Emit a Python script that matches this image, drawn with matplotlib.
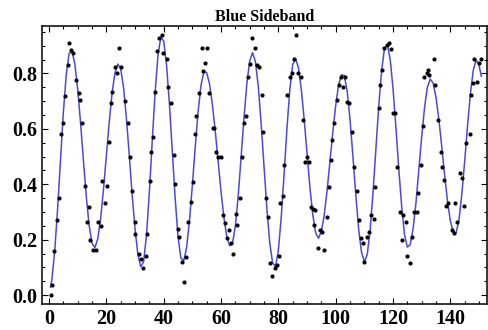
import matplotlib
matplotlib.use("Agg")
import matplotlib.pyplot as plt
from matplotlib.ticker import MultipleLocator

# measured points (time, population)
t_data = [0.6, 1.2, 1.9, 2.9, 3.4, 4.2, 4.8, 5.7, 6.6, 7.1, 7.7, 8.4, 9.4, 10.35, 10.8, 11.6,
          12.7, 13.1, 14.1, 14.4, 15.5, 16.4, 17.0, 18.0, 18.5, 19.4, 20.2, 20.8, 21.5, 22.0,
          22.9, 23.8, 24.3, 25.2, 26.4, 27.6, 28.2, 29.0, 29.9, 30.1, 31.3, 32.0, 32.8, 33.7,
          34.3, 35.1, 35.7, 36.4, 37.1, 37.8, 38.5, 39.4, 39.9, 41.2, 41.6, 42.6, 43.5, 44.0,
          44.9, 45.2, 46.3, 47.2, 47.8, 48.5, 49.4, 50.1, 50.9, 51.4, 52.4, 53.3, 53.8, 54.5,
          55.1, 55.9, 57.1, 57.7, 58.2, 59.0, 59.9, 60.8, 61.3, 62.0, 62.8, 63.4, 64.3, 65.1,
          65.7, 66.6, 67.3, 68.0, 68.6, 69.4, 70.1, 70.9, 71.8, 72.7, 73.3, 74.2, 74.8, 75.6,
          76.4, 77.1, 77.9, 78.7, 79.5, 80.4, 80.7, 81.5, 82.1, 83.0, 83.9, 84.6, 85.5, 86.3,
          86.9, 87.8, 88.5, 89.2, 89.9, 90.6, 91.5, 92.0, 92.4, 92.9, 93.7, 94.4, 95.3, 95.8,
          97.0, 97.6, 98.2, 98.6, 99.4, 100.4, 101.3, 101.8, 102.7, 103.3, 104.1, 104.7, 105.6,
          106.5, 107.4, 108.0, 108.7, 109.5, 110.0, 110.8, 111.6, 112.3, 113.2, 113.7, 115.1,
          115.5, 116.1, 117.0, 117.8, 118.5, 119.2, 120.0, 120.8, 121.4, 122.3, 123.2, 123.5,
          124.4, 125.0, 125.8, 126.7, 127.4, 128.2, 128.7, 129.6, 130.5, 130.8, 131.7, 132.2,
          132.6, 134.2, 134.6, 135.7, 136.6, 137.1, 137.8, 138.6, 139.3, 140.5, 141.1, 141.7,
          142.3, 143.2, 144.2, 144.6, 145.5, 146.7, 147.1, 147.8, 148.4, 149.2, 150.1, 150.7]
p_data = [0.00, 0.036, 0.16, 0.27, 0.35, 0.58, 0.62, 0.72, 0.83, 0.91, 0.885, 0.873, 0.778, 0.73, 0.704, 0.62,
          0.395, 0.262, 0.319, 0.198, 0.162, 0.162, 0.262, 0.249, 0.413, 0.331, 0.394, 0.554, 0.692, 0.734,
          0.824, 0.80, 0.891, 0.824, 0.702, 0.622, 0.499, 0.377, 0.22, 0.265, 0.15, 0.129, 0.096, 0.141,
          0.219, 0.411, 0.517, 0.572, 0.734, 0.882, 0.927, 0.939, 0.873, 0.851, 0.75, 0.692, 0.505, 0.401,
          0.237, 0.208, 0.12, 0.048, 0.138, 0.262, 0.337, 0.409, 0.58, 0.646, 0.73, 0.891, 0.81, 0.839,
          0.891, 0.73, 0.602, 0.602, 0.517, 0.499, 0.499, 0.289, 0.261, 0.205, 0.235, 0.189, 0.15, 0.291,
          0.253, 0.349, 0.499, 0.62, 0.646, 0.788, 0.833, 0.927, 0.891, 0.83, 0.822, 0.722, 0.59, 0.349,
          0.283, 0.114, 0.069, 0.096, 0.108, 0.141, 0.331, 0.358, 0.469, 0.722, 0.788, 0.80, 0.851, 0.939,
          0.80, 0.788, 0.632, 0.481, 0.499, 0.481, 0.319, 0.309, 0.253, 0.307, 0.169, 0.235, 0.229, 0.162,
          0.283, 0.391, 0.487, 0.56, 0.62, 0.704, 0.758, 0.788, 0.752, 0.788, 0.698, 0.692, 0.59,
          0.463, 0.377, 0.271, 0.205, 0.189, 0.12, 0.208, 0.229, 0.289, 0.273, 0.391, 0.674,
          0.758, 0.812, 0.891, 0.903, 0.909, 0.887, 0.658, 0.658, 0.463, 0.301, 0.199, 0.289,
          0.265, 0.141, 0.114, 0.208, 0.301, 0.301, 0.37, 0.469, 0.61, 0.788, 0.80, 0.812,
          0.794, 0.851, 0.758, 0.632, 0.517, 0.463, 0.415, 0.321, 0.331, 0.235, 0.223, 0.331,
          0.265, 0.439, 0.421, 0.321, 0.55, 0.581, 0.722, 0.764, 0.851, 0.77, 0.836, 0.851]

# fitted curve at unit steps
t_fit = [0.5] + list(range(1, 151)) + [150.8]
p_fit = [0.029,
         0.056, 0.160, 0.312, 0.488, 0.659, 0.794, 0.872, 0.881, 0.835, 0.743,
         0.622, 0.486, 0.356, 0.251, 0.187, 0.171, 0.203, 0.276, 0.381, 0.503,
         0.624, 0.729, 0.802, 0.834, 0.817, 0.749, 0.638, 0.504, 0.362, 0.239,
         0.146, 0.102, 0.120, 0.216, 0.371, 0.555, 0.730, 0.866, 0.931, 0.917,
         0.830, 0.690, 0.519, 0.350, 0.211, 0.133, 0.124, 0.172, 0.269, 0.396,
         0.534, 0.661, 0.756, 0.806, 0.803, 0.762, 0.687, 0.591, 0.482, 0.374,
         0.280, 0.212, 0.178, 0.186, 0.249, 0.358, 0.496, 0.638, 0.762, 0.845,
         0.875, 0.843, 0.753, 0.618, 0.464, 0.312, 0.188, 0.116, 0.103, 0.160,
         0.281, 0.436, 0.601, 0.742, 0.832, 0.854, 0.821, 0.743, 0.635, 0.511,
         0.390, 0.291, 0.225, 0.205, 0.229, 0.288, 0.377, 0.481, 0.588, 0.684,
         0.758, 0.795, 0.793, 0.737, 0.634, 0.502, 0.364, 0.239, 0.155, 0.120,
         0.146, 0.233, 0.367, 0.522, 0.679, 0.808, 0.889, 0.905, 0.852, 0.746,
         0.607, 0.457, 0.322, 0.219, 0.173, 0.182, 0.239, 0.333, 0.450, 0.571,
         0.677, 0.751, 0.780, 0.765, 0.713, 0.633, 0.536, 0.433, 0.340, 0.268,
         0.227, 0.224, 0.271, 0.364, 0.483, 0.612, 0.728, 0.812, 0.849, 0.830,
         0.790]

x_ticks = [0, 20, 40, 60, 80, 100, 120, 140]
y_ticks = [0.0, 0.2, 0.4, 0.6, 0.8]

plt.rcParams['font.family'] = ['Liberation Serif', 'DejaVu Serif']
plt.rcParams['font.weight'] = 'bold'

fig = plt.figure(figsize=(4.89, 3.30), dpi=100)
ax = fig.add_axes([0.085, 0.079, 0.911, 0.842])

ax.plot(t_fit, p_fit, color='#4a4ad6', lw=1.1, zorder=2)
ax.plot(t_data, p_data, 'o', color='black', ms=3.0, mew=0, zorder=3)

ax.set_xlim(-2.6, 152.8)
ax.set_ylim(-0.032, 0.971)
ax.set_xticks(x_ticks)
ax.set_yticks(y_ticks)
ax.set_yticklabels(['%.1f' % v for v in y_ticks])
ax.xaxis.set_minor_locator(MultipleLocator(5))
ax.yaxis.set_minor_locator(MultipleLocator(0.05))
ax.tick_params(which='both', direction='in', top=True, right=True, width=0.8)
ax.tick_params(which='major', length=4.5, labelsize=14.5)
ax.tick_params(axis='x', which='major', pad=4)
ax.tick_params(axis='y', which='major', pad=3)
ax.tick_params(which='minor', length=2.3)
for s in ax.spines.values():
    s.set_linewidth(1.1)

ax.set_title('Blue Sideband', fontsize=11.5, fontweight='bold', pad=4)

fig.savefig('out.png', dpi=100)
